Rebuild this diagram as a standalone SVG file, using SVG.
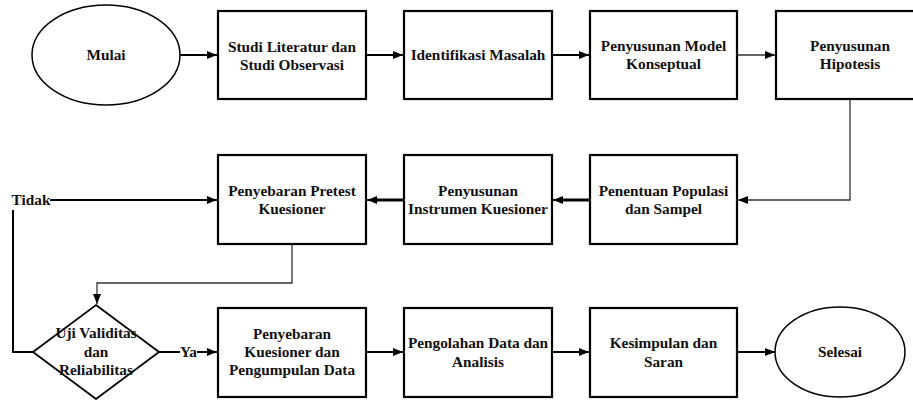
<svg xmlns="http://www.w3.org/2000/svg" width="913" height="400" viewBox="0 0 913 400">
<style>
.box{fill:#fff;stroke:#000;stroke-width:2.2}
.c{fill:none;stroke:#000;stroke-width:2}
.thin{fill:none;stroke:#333;stroke-width:1.3}
.thick{fill:none;stroke:#000;stroke-width:3}
</style>
<defs>
<marker id="ah" viewBox="0 0 10 10" refX="10" refY="5" markerWidth="10" markerHeight="10" markerUnits="userSpaceOnUse" orient="auto">
<path d="M0,1 L10,5 L0,9 Z" fill="#000"/>
</marker>
</defs>
<rect width="913" height="400" fill="#fff"/>
<g id="connectors">
<line class="c" x1="180" y1="55" x2="217" y2="55" marker-end="url(#ah)"/>
<line class="c" x1="366" y1="55" x2="403" y2="55" marker-end="url(#ah)"/>
<line class="c" x1="552" y1="55" x2="589" y2="55" marker-end="url(#ah)"/>
<line class="thin" x1="737" y1="55" x2="775" y2="55" marker-end="url(#ah)"/>
<polyline class="thin" points="850,99 850,200 738,200" marker-end="url(#ah)"/>
<line class="thick" x1="590" y1="200" x2="560" y2="200"/>
<line class="c" x1="561" y1="200" x2="553" y2="200" marker-end="url(#ah)"/>
<line class="thick" x1="404" y1="200" x2="374" y2="200"/>
<line class="c" x1="375" y1="200" x2="367" y2="200" marker-end="url(#ah)"/>
<line class="c" x1="50" y1="200" x2="217" y2="200" marker-end="url(#ah)"/>
<polyline class="c" points="13,210 13,352 33,352"/>
<polyline class="thin" points="292,244 292,283 97,283 97,304" marker-end="url(#ah)"/>
<line class="c" x1="159" y1="352" x2="180" y2="352"/>
<line class="c" x1="197" y1="352" x2="217" y2="352" marker-end="url(#ah)"/>
<line class="c" x1="366" y1="352" x2="403" y2="352" marker-end="url(#ah)"/>
<line class="c" x1="552" y1="352" x2="589" y2="352" marker-end="url(#ah)"/>
<line class="c" x1="737" y1="352" x2="775" y2="352" marker-end="url(#ah)"/>
<text font-family="Liberation Serif" font-weight="bold" font-size="15.3" fill="#111" text-anchor="middle" x="31" y="205">Tidak</text>
<text font-family="Liberation Serif" font-weight="bold" font-size="15.3" fill="#111" text-anchor="middle" x="188.5" y="357">Ya</text>
</g>
<g id="mulai">
<ellipse cx="106" cy="55" rx="74" ry="50" fill="#fff" stroke="#000" stroke-width="1.5"/>
<text font-family="Liberation Serif" font-weight="bold" font-size="15.3" fill="#111" text-anchor="middle" x="106" y="60">Mulai</text>
</g>
<g id="studi">
<rect class="box" x="218" y="11" width="148" height="88"/>
<text font-family="Liberation Serif" font-weight="bold" font-size="15.3" fill="#111" text-anchor="middle" x="292" y="52">Studi Literatur dan</text>
<text font-family="Liberation Serif" font-weight="bold" font-size="15.3" fill="#111" text-anchor="middle" x="292" y="70">Studi Observasi</text>
</g>
<g id="identifikasi">
<rect class="box" x="404" y="11" width="148" height="88"/>
<text font-family="Liberation Serif" font-weight="bold" font-size="15.3" fill="#111" text-anchor="middle" x="478" y="60">Identifikasi Masalah</text>
</g>
<g id="model">
<rect class="box" x="590" y="11" width="147" height="88"/>
<text font-family="Liberation Serif" font-weight="bold" font-size="15.3" fill="#111" text-anchor="middle" x="663.5" y="51">Penyusunan Model</text>
<text font-family="Liberation Serif" font-weight="bold" font-size="15.3" fill="#111" text-anchor="middle" x="663.5" y="69">Konseptual</text>
</g>
<g id="hipotesis">
<rect class="box" x="776" y="11" width="148" height="88"/>
<text font-family="Liberation Serif" font-weight="bold" font-size="15.3" fill="#111" text-anchor="middle" x="850" y="51">Penyusunan</text>
<text font-family="Liberation Serif" font-weight="bold" font-size="15.3" fill="#111" text-anchor="middle" x="850" y="69">Hipotesis</text>
</g>
<g id="pretest">
<rect class="box" x="218" y="155" width="148" height="89"/>
<text font-family="Liberation Serif" font-weight="bold" font-size="15.3" fill="#111" text-anchor="middle" x="292" y="196">Penyebaran Pretest</text>
<text font-family="Liberation Serif" font-weight="bold" font-size="15.3" fill="#111" text-anchor="middle" x="292" y="214">Kuesioner</text>
</g>
<g id="instrumen">
<rect class="box" x="404" y="155" width="148" height="89"/>
<text font-family="Liberation Serif" font-weight="bold" font-size="15.3" fill="#111" text-anchor="middle" x="478" y="196">Penyusunan</text>
<text font-family="Liberation Serif" font-weight="bold" font-size="15.3" fill="#111" text-anchor="middle" x="478" y="214">Instrumen Kuesioner</text>
</g>
<g id="populasi">
<rect class="box" x="590" y="155" width="147" height="89"/>
<text font-family="Liberation Serif" font-weight="bold" font-size="15.3" fill="#111" text-anchor="middle" x="663.5" y="196">Penentuan Populasi</text>
<text font-family="Liberation Serif" font-weight="bold" font-size="15.3" fill="#111" text-anchor="middle" x="663.5" y="214">dan Sampel</text>
</g>
<g id="uji">
<polygon points="96,305 159,352 96,399 33,352" fill="#fff" stroke="#000" stroke-width="1.8"/>
<text font-family="Liberation Serif" font-weight="bold" font-size="15.3" fill="#111" text-anchor="middle" x="96" y="338">Uji Validitas</text>
<text font-family="Liberation Serif" font-weight="bold" font-size="15.3" fill="#111" text-anchor="middle" x="96" y="357">dan</text>
<text font-family="Liberation Serif" font-weight="bold" font-size="15.3" fill="#111" text-anchor="middle" x="96" y="375">Reliabilitas</text>
</g>
<g id="penyebaran">
<rect class="box" x="218" y="308" width="148" height="89"/>
<text font-family="Liberation Serif" font-weight="bold" font-size="15.3" fill="#111" text-anchor="middle" x="292" y="339">Penyebaran</text>
<text font-family="Liberation Serif" font-weight="bold" font-size="15.3" fill="#111" text-anchor="middle" x="292" y="357">Kuesioner dan</text>
<text font-family="Liberation Serif" font-weight="bold" font-size="15.3" fill="#111" text-anchor="middle" x="292" y="375">Pengumpulan Data</text>
</g>
<g id="pengolahan">
<rect class="box" x="404" y="308" width="148" height="89"/>
<text font-family="Liberation Serif" font-weight="bold" font-size="15.3" fill="#111" text-anchor="middle" x="478" y="348">Pengolahan Data dan</text>
<text font-family="Liberation Serif" font-weight="bold" font-size="15.3" fill="#111" text-anchor="middle" x="478" y="367">Analisis</text>
</g>
<g id="kesimpulan">
<rect class="box" x="590" y="308" width="147" height="89"/>
<text font-family="Liberation Serif" font-weight="bold" font-size="15.3" fill="#111" text-anchor="middle" x="663.5" y="348">Kesimpulan dan</text>
<text font-family="Liberation Serif" font-weight="bold" font-size="15.3" fill="#111" text-anchor="middle" x="663.5" y="367">Saran</text>
</g>
<g id="selesai">
<ellipse cx="840" cy="352" rx="65" ry="45" fill="#fff" stroke="#000" stroke-width="1.5"/>
<text font-family="Liberation Serif" font-weight="bold" font-size="15.3" fill="#111" text-anchor="middle" x="840" y="357">Selesai</text>
</g>
</svg>
